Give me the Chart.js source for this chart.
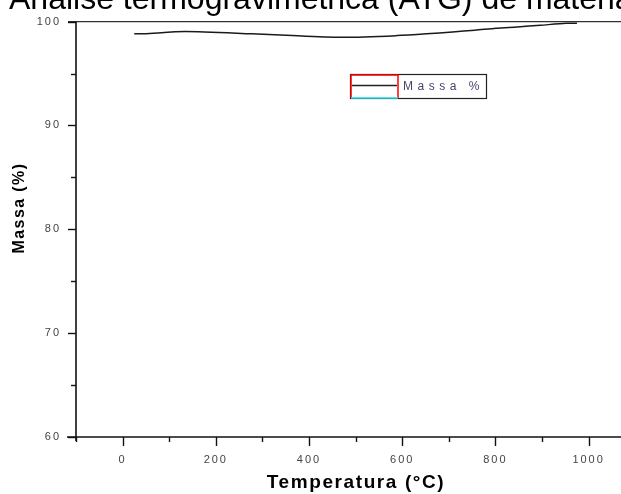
<!DOCTYPE html>
<html>
<head>
<meta charset="utf-8">
<script src="https://cdn.jsdelivr.net/npm/chart.js@4/dist/chart.umd.min.js"></script>
<style>
html,body{margin:0;padding:0;background:#fff;overflow:hidden;}
canvas{display:block;}
</style>
</head>
<body>
<canvas id="c" width="621" height="494"></canvas>
<script>
// ---- data ----
const chartTitle = 'Análise termogravimétrica (ATG) de materiais';
const xAxisTitle = 'Temperatura (°C)';
const yAxisTitle = 'Massa (%)';
const seriesLabel = 'Massa %';
const temperatures = [25, 46, 135, 277, 376, 477, 588, 652, 708, 756, 801, 847, 897, 951, 975];
const massValues   = [98.82, 98.83, 99.04, 98.82, 98.63, 98.49, 98.65, 98.82, 99.01, 99.17, 99.36, 99.49, 99.65, 99.83, 99.84];
const xMajorTicks = [0, 200, 400, 600, 800, 1000];
const xMinorTicks = [-100, 100, 300, 500, 700, 900, 1100];
const yMajorTicks = [60, 70, 80, 90, 100];
const yMinorTicks = [65, 75, 85, 95];

const FONT = '"Liberation Sans", Arial, sans-serif';

const points = temperatures.map((t, i) => ({x: t, y: massValues[i]}));

const decorPlugin = {
  id: 'decor',
  beforeDraw(chart) {
    chart.ctx.letterSpacing = '2px';
  },
  afterDraw(chart) {
    const ctx = chart.ctx;
    const a = chart.chartArea;
    const xs = chart.scales.x, ys = chart.scales.y;
    ctx.save();
    ctx.letterSpacing = '0px';
    // top frame line
    ctx.strokeStyle = '#333';
    ctx.lineWidth = 1.2;
    ctx.beginPath(); ctx.moveTo(a.left - 8, a.top); ctx.lineTo(a.right, a.top); ctx.stroke();
    // axis lines (extending past crossing)
    ctx.strokeStyle = '#111';
    ctx.lineWidth = 1.6;
    ctx.beginPath(); ctx.moveTo(a.left - 9, a.bottom); ctx.lineTo(a.right, a.bottom); ctx.stroke();
    ctx.beginPath(); ctx.moveTo(a.left, a.top); ctx.lineTo(a.left, a.bottom + 4); ctx.stroke();
    // x ticks
    ctx.lineWidth = 1.4;
    xMajorTicks.forEach(v => { const px = Math.round(xs.getPixelForValue(v)) + 0.5; ctx.beginPath(); ctx.moveTo(px, a.bottom); ctx.lineTo(px, a.bottom + 9); ctx.stroke(); });
    xMinorTicks.forEach(v => { const px = Math.round(xs.getPixelForValue(v)) + 0.5; if (px > a.right) return; ctx.beginPath(); ctx.moveTo(px, a.bottom); ctx.lineTo(px, a.bottom + 5); ctx.stroke(); });
    // y ticks
    yMajorTicks.forEach(v => { const py = Math.round(ys.getPixelForValue(v)) + 0.5; ctx.beginPath(); ctx.moveTo(a.left - 8, py); ctx.lineTo(a.left, py); ctx.stroke(); });
    yMinorTicks.forEach(v => { const py = Math.round(ys.getPixelForValue(v)) + 0.5; ctx.beginPath(); ctx.moveTo(a.left - 5, py); ctx.lineTo(a.left, py); ctx.stroke(); });

    // x axis title
    ctx.font = 'bold 19px ' + FONT;
    ctx.letterSpacing = '1.6px';
    ctx.fillStyle = '#000';
    ctx.textAlign = 'center';
    ctx.textBaseline = 'middle';
    ctx.fillText(xAxisTitle, 356, 483);

    // y axis title
    ctx.save();
    ctx.translate(20, 208);
    ctx.rotate(-Math.PI / 2);
    ctx.font = 'bold 16px ' + FONT;
    ctx.letterSpacing = '1.4px';
    ctx.fillStyle = '#000';
    ctx.textAlign = 'center';
    ctx.textBaseline = 'middle';
    ctx.fillText(yAxisTitle, 0, 0);
    ctx.restore();

    // chart title (cut off at top like the reference)
    ctx.font = '32px ' + FONT;
    ctx.letterSpacing = '0px';
    ctx.fillStyle = '#000';
    ctx.textAlign = 'left';
    ctx.textBaseline = 'alphabetic';
    ctx.fillText(chartTitle, 9, 9);

    // legend box
    const lx = 350, ly = 74, lw = 136, lh = 24, sw = 48;
    ctx.fillStyle = '#fff';
    ctx.fillRect(lx, ly, lw, lh);
    ctx.strokeStyle = '#222';
    ctx.lineWidth = 1.2;
    ctx.strokeRect(lx + 0.5, ly + 0.5, lw, lh);
    ctx.strokeStyle = '#ff0000';
    ctx.lineWidth = 1.5;
    ctx.beginPath(); ctx.moveTo(lx + 1, ly + lh); ctx.lineTo(lx + 1, ly + 1); ctx.lineTo(lx + sw, ly + 1); ctx.lineTo(lx + sw, ly + lh); ctx.stroke();
    ctx.strokeStyle = '#22e5f0';
    ctx.beginPath(); ctx.moveTo(lx + 1, ly + lh); ctx.lineTo(lx + sw, ly + lh); ctx.stroke();
    ctx.strokeStyle = '#222';
    ctx.lineWidth = 1.3;
    ctx.beginPath(); ctx.moveTo(lx + 2, ly + 11.5); ctx.lineTo(lx + sw - 1, ly + 11.5); ctx.stroke();
    ctx.font = '12px ' + FONT;
    ctx.letterSpacing = '4.5px';
    ctx.fillStyle = '#44466a';
    ctx.textBaseline = 'middle';
    ctx.fillText(seriesLabel, lx + sw + 5, ly + 12.5);
    ctx.restore();
  }
};

new Chart(document.getElementById('c'), {
  type: 'line',
  data: {
    datasets: [{
      label: seriesLabel,
      data: points,
      borderColor: '#1a1a1a',
      borderWidth: 1.5,
      pointRadius: 0,
      tension: 0.25,
      fill: false
    }]
  },
  options: {
    responsive: false,
    animation: false,
    devicePixelRatio: 1,
    layout: {padding: {top: 20, right: 0, left: 0, bottom: 0}},
    plugins: {legend: {display: false}, title: {display: false}, tooltip: {enabled: false}},
    scales: {
      x: {
        type: 'linear',
        position: 'bottom',
        min: -100,
        max: 1069.5,
        afterBuildTicks: s => { s.ticks = xMajorTicks.map(v => ({value: v})); },
        afterFit: s => { s.height = 57; },
        grid: {display: false, drawTicks: false},
        border: {display: false},
        ticks: {font: {size: 11, family: FONT}, color: '#444', padding: 16, maxRotation: 0, autoSkip: false, callback: v => String(v)},
        title: {display: false}
      },
      y: {
        type: 'linear',
        position: 'left',
        min: 60,
        max: 100,
        afterBuildTicks: s => { s.ticks = yMajorTicks.map(v => ({value: v})); },
        afterFit: s => { s.width = 76; },
        grid: {display: false, drawTicks: false},
        border: {display: false},
        ticks: {font: {size: 11, family: FONT}, color: '#444', padding: 15, callback: v => String(v)}
      }
    }
  },
  plugins: [decorPlugin]
});
</script>
</body>
</html>
